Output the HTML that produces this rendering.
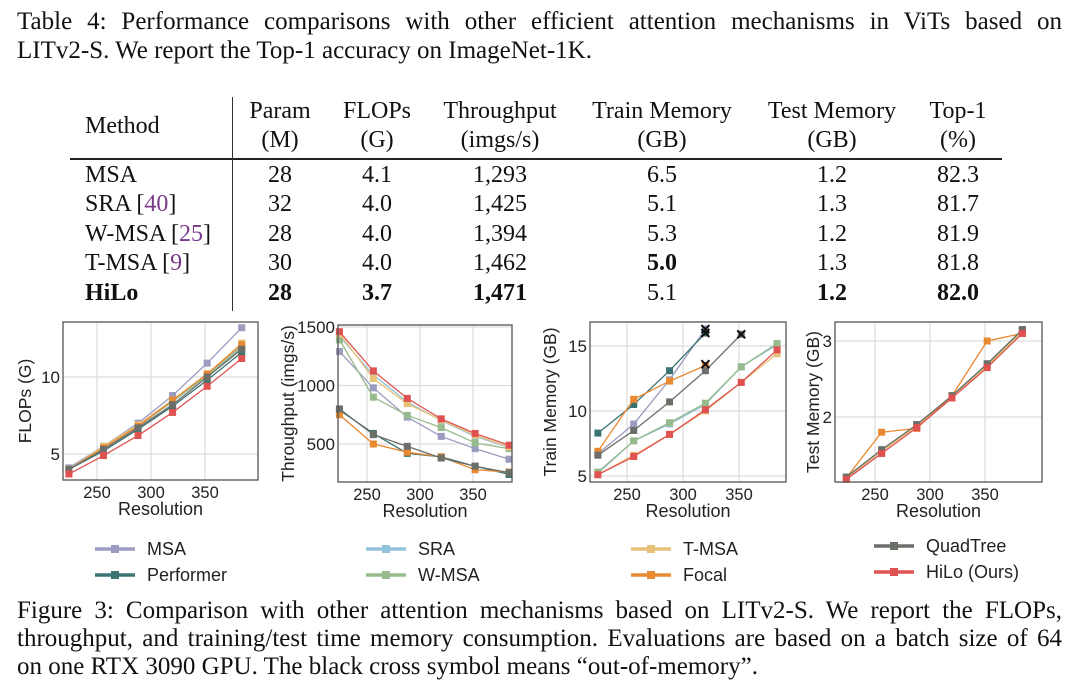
<!DOCTYPE html>
<html><head><meta charset="utf-8">
<style>
body{margin:0;width:1080px;height:693px;background:#fff;overflow:hidden;position:relative;font-family:"Liberation Serif",serif;color:#111}
.cap{position:absolute;left:17px;width:1045px;font-size:25px;white-space:nowrap;text-align:justify;text-align-last:justify}
.cap.l{text-align-last:left}
.t{position:absolute;font-size:24px;text-align:center;white-space:nowrap;transform:translateX(-50%)}
.ref{color:#7a3a8a}
svg{position:absolute;left:0;top:0}
</style></head><body>
<div class="cap" style="top:8px">Table 4: Performance comparisons with other efficient attention mechanisms in ViTs based on</div>
<div class="cap l" style="top:37px">LITv2-S. We report the Top-1 accuracy on ImageNet-1K.</div>

<div id="table"></div>

<svg id="chart" width="1080" height="693"></svg>

<div class="cap" style="top:597px">Figure 3: Comparison with other attention mechanisms based on LITv2-S. We report the FLOPs,</div>
<div class="cap" style="top:625px">throughput, and training/test time memory consumption. Evaluations are based on a batch size of 64</div>
<div class="cap l" style="top:653px">on one RTX 3090 GPU. The black cross symbol means “out-of-memory”.</div>

<script>
const colCenters=[280,377,500,662,832,958];
const headers1=["Param","FLOPs","Throughput","Train Memory","Test Memory","Top-1"];
const headers2=["(M)","(G)","(imgs/s)","(GB)","(GB)","(%)"];
const methods=["MSA","SRA [40]","W-MSA [25]","T-MSA [9]","HiLo"];
const rowsData=[["28","4.1","1,293","6.5","1.2","82.3"],["32","4.0","1,425","5.1","1.3","81.7"],["28","4.0","1,394","5.3","1.2","81.9"],["30","4.0","1,462","5.0","1.3","81.8"],["28","3.7","1,471","5.1","1.2","82.0"]];
const boldCells=[[],[],[],[3],[0,1,2,4,5]];
const tb=document.getElementById('table');
function addDiv(html,x,y,name,extra){const d=document.createElement('div');d.className='t';d.style.left=x+'px';d.style.top=y+'px';d.innerHTML=html;if(extra)d.style.cssText+=extra;


tb.appendChild(d);return d;}
addDiv("Method",85,113,'header-method','transform:none');
headers1.forEach((h,i)=>{addDiv(h,colCenters[i],98,'header-'+i);addDiv(headers2[i],colCenters[i],127,'header-unit-'+i);});
const rowY=[162,191,221,250,280];
methods.forEach((m,r)=>{
 const mm=m.replace(/\[(\d+)\]/,'[<span class="ref">$1</span>]');
 addDiv(mm,85,rowY[r],'method-'+r,'transform:none'+(r==4?';font-weight:bold':''));
 rowsData[r].forEach((v,c)=>{addDiv(v,colCenters[c],rowY[r],'cell-'+r+'-'+c,boldCells[r].includes(c)?'font-weight:bold':'');});
});
const hl=document.createElement('div');hl.style.cssText='position:absolute;left:70px;top:158px;width:932px;height:2px;background:#222';


tb.appendChild(hl);
const vl=document.createElement('div');vl.style.cssText='position:absolute;left:232px;top:97px;width:1px;height:214px;background:#333';


tb.appendChild(vl);

// ---------- chart data ----------
const resolutions=[224,256,288,320,352,384];
const seriesNames=["MSA","Performer","SRA","W-MSA","T-MSA","Focal","QuadTree","HiLo (Ours)"];
const seriesColors=["#9b9cc0","#3b7372","#93c3db","#97bb8c","#e9c27a","#e98a33","#6b6f69","#e05252"];
const flopsMSA=[4.1,5.5,7.0,8.8,10.9,13.2];
const flopsPerformer=[4.0,5.2,6.6,8.1,9.8,11.6];
const flopsSRA=[4.0,5.4,6.8,8.4,10.1,12.0];
const flopsWMSA=[4.0,5.4,6.8,8.4,10.1,11.9];
const flopsTMSA=[4.0,5.5,6.9,8.5,10.2,12.2];
const flopsFocal=[4.0,5.4,6.8,8.5,10.2,12.1];
const flopsQuadTree=[4.0,5.3,6.7,8.2,10.0,11.8];
const flopsHiLo=[3.7,4.9,6.2,7.7,9.4,11.2];
const tpMSA=[1290,980,730,565,460,370];
const tpPerformer=[790,590,420,390,310,240];
const tpSRA=[1420,1090,860,700,565,470];
const tpWMSA=[1390,900,745,640,510,460];
const tpTMSA=[1445,1060,845,705,575,475];
const tpFocal=[750,500,430,390,280,260];
const tpQuadTree=[800,580,480,380,310,255];
const tpHiLo=[1460,1125,890,715,590,490];
const trMSA=[6.7,9.0,12.4,16.3,null,null];
const trPerformer=[8.3,10.5,13.1,16.0,null,null];
const trSRA=[5.2,7.7,9.0,10.5,13.4,15.1];
const trWMSA=[5.3,7.7,9.1,10.6,13.4,15.2];
const trTMSA=[5.1,6.6,8.2,10.0,12.2,14.4];
const trFocal=[6.9,10.9,12.3,13.5,null,null];
const trQuadTree=[6.6,8.5,10.7,13.1,15.9,null];
const trHiLo=[5.1,6.5,8.2,10.1,12.2,14.7];
const oomMSA=[320,16.3],oomPerformer=[320,16.0],oomFocal=[320,13.6],oomQuadTree=[352,15.9];
const teMSA=[1.21,1.56,1.9,2.28,2.7,3.15];
const tePerformer=[1.2,1.55,1.89,2.27,2.69,3.14];
const teSRA=[1.2,1.55,1.89,2.27,2.68,3.13];
const teWMSA=[1.2,1.55,1.89,2.27,2.68,3.13];
const teTMSA=[1.2,1.55,1.88,2.26,2.67,3.12];
const teFocal=[1.2,1.8,1.85,2.28,3.0,3.1];
const teQuadTree=[1.21,1.57,1.9,2.28,2.7,3.15];
const teHiLo=[1.18,1.52,1.86,2.25,2.65,3.1];
const xTicks=[250,300,350];
const flopsTicks=[5,10];
const tpTicks=[500,1000,1500];
const trTicks=[5,10,15];
const teTicks=[2,3];

const NS='http://www.w3.org/2000/svg';
const svg=document.getElementById('chart');
function el(tag,attrs,parent){const e=document.createElementNS(NS,tag);for(const k in attrs)e.setAttribute(k,attrs[k]);(parent||svg).appendChild(e);return e;}
function lin(d0,d1,r0,r1){return v=>r0+(v-d0)*(r1-r0)/(d1-d0);}
const FF='Liberation Sans, sans-serif';
function chart(cfg){
 const g=el('g',{});
 
 
 const X=lin(250,350,cfg.x250,cfg.x350), Y=lin(cfg.ya[0],cfg.ya[1],cfg.ya[2],cfg.ya[3]);
 xTicks.forEach(t=>{el('line',{x1:X(t),x2:X(t),y1:cfg.top,y2:cfg.bot,stroke:'#ddd','stroke-width':1.2},g);
  const tx=el('text',{x:X(t),y:cfg.bot+18,'text-anchor':'middle','font-size':16.5,fill:'#222','font-family':FF},g);tx.textContent=t;});
 cfg.yt.forEach(t=>{el('line',{x1:cfg.left,x2:cfg.right,y1:Y(t),y2:Y(t),stroke:'#ddd','stroke-width':1.2},g);
  const tx=el('text',{x:cfg.left-3,y:Y(t)+6,'text-anchor':'end','font-size':17,fill:'#222','font-family':FF},g);tx.textContent=t;});
 cfg.series.forEach((s,i)=>{
  const pts=[];s.forEach((v,j)=>{if(v!=null)pts.push([X(resolutions[j]),Y(v)]);});
  const pl=el('polyline',{points:pts.map(p=>p.join(',')).join(' '),fill:'none',stroke:seriesColors[i],'stroke-width':1.3},g);
  
  
  pts.forEach(p=>{el('rect',{x:p[0]-3.5,y:p[1]-3.5,width:7,height:7,fill:seriesColors[i]},g);});
 });
 (cfg.oom||[]).forEach(o=>{const cx=X(o[0]),cy=Y(o[1]);
  const c=el('path',{d:`M${cx-4},${cy-4}L${cx+4},${cy+4}M${cx-4},${cy+4}L${cx+4},${cy-4}`,stroke:'#111','stroke-width':2},g);
  
  });
 el('rect',{x:cfg.left,y:cfg.top,width:cfg.right-cfg.left,height:cfg.bot-cfg.top,fill:'none',stroke:'#555','stroke-width':1.3},g);
 const xl=el('text',{x:(cfg.left+cfg.right)/2,y:cfg.bot+35,'text-anchor':'middle','font-size':18,fill:'#222','font-family':FF},g);xl.textContent='Resolution';
 
 
 const yl=el('text',{x:0,y:0,transform:`translate(${cfg.ytx},${(cfg.top+cfg.bot)/2}) rotate(-90)`,'text-anchor':'middle','font-size':17.5,fill:'#222','font-family':FF},g);yl.textContent=cfg.ytitle;
 
 
}
chart({name:'flops-chart',left:63,right:258,top:322,bot:480,x250:97,x350:205,ya:[5,10,454,377],yt:flopsTicks,ytitle:'FLOPs (G)',ytx:31,
 series:[flopsMSA,flopsPerformer,flopsSRA,flopsWMSA,flopsTMSA,flopsFocal,flopsQuadTree,flopsHiLo]});
chart({name:'throughput-chart',left:338,right:512,top:325,bot:482,x250:367,x350:473,ya:[500,1500,444,327],yt:tpTicks,ytitle:'Throughput (imgs/s)',ytx:294,
 series:[tpMSA,tpPerformer,tpSRA,tpWMSA,tpTMSA,tpFocal,tpQuadTree,tpHiLo]});
chart({name:'train-memory-chart',left:590,right:786,top:322,bot:482,x250:627,x350:739,ya:[5,15,476,346],yt:trTicks,ytitle:'Train Memory (GB)',ytx:556,
 series:[trMSA,trPerformer,trSRA,trWMSA,trTMSA,trFocal,trQuadTree,trHiLo],oom:[oomMSA,oomPerformer,oomFocal,oomQuadTree]});
chart({name:'test-memory-chart',left:835,right:1042,top:322,bot:482,x250:875,x350:985,ya:[2,3,417,341],yt:teTicks,ytitle:'Test Memory (GB)',ytx:819,
 series:[teMSA,tePerformer,teSRA,teWMSA,teTMSA,teFocal,teQuadTree,teHiLo]});

// legend
const legX=[95,95,366,366,631,631,874,874];
const legY=[549,575,549,575,549,575,546,572];
seriesNames.forEach((n,i)=>{
 const g=el('g',{});
 
 
 el('line',{x1:legX[i],x2:legX[i]+40,y1:legY[i],y2:legY[i],stroke:seriesColors[i],'stroke-width':3.5},g);
 el('rect',{x:legX[i]+16,y:legY[i]-4,width:8,height:8,fill:seriesColors[i]},g);
 const t=el('text',{x:legX[i]+52,y:legY[i]+6,'font-size':18,fill:'#222','font-family':FF},g);t.textContent=n;
});
</script>
</body></html>
